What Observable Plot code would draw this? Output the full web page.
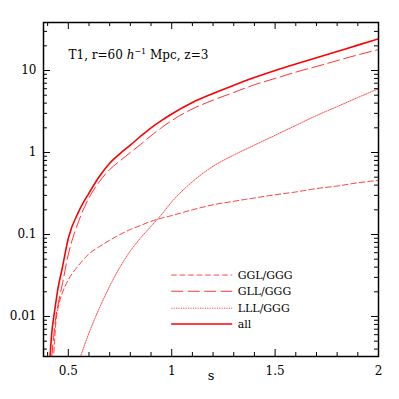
<!DOCTYPE html>
<html><head><meta charset="utf-8">
<script src="https://cdn.jsdelivr.net/npm/d3@7"></script>
<script src="https://cdn.jsdelivr.net/npm/@observablehq/plot@0.6"></script>
<style>
body{margin:0;background:#fff}
#chart svg{display:block}
</style>
</head><body><div id="chart"></div>
<script>
// Data
const s = [0.41,0.42,0.43,0.44,0.45,0.47,0.5,0.55,0.6,0.65,0.7,0.75,0.8,0.85,0.9,0.95,1.0,1.1,1.2,1.3,1.4,1.5,1.6,1.7,1.8,1.9,2.0];
const ggl = [null,null,0.0036,0.0085,0.0125,0.019,0.028,0.042,0.058,0.071,0.085,0.1,0.115,0.129,0.145,0.158,0.17,0.2,0.23,0.254,0.279,0.305,0.33,0.363,0.39,0.427,0.457];
const gll = [null,0.0032,0.006,0.010,0.0138,0.024,0.057,0.145,0.28,0.44,0.62,0.79,1.0,1.26,1.6,2.0,2.45,3.4,4.35,5.4,6.7,8.0,9.55,11.2,13.2,15.5,18.0];
const lll = [null,null,null,null,null,null,null,0.0028,0.0063,0.0126,0.0234,0.04,0.063,0.091,0.126,0.174,0.25,0.44,0.68,0.93,1.23,1.62,2.14,2.82,3.63,4.68,6.0];
const all = [0.0028,0.0063,0.010,0.015,0.022,0.038,0.09,0.19,0.32,0.51,0.74,0.97,1.23,1.58,2.0,2.45,2.95,4.07,5.25,6.6,8.2,10.0,12.0,14.3,17.0,20.4,24.3];

const seriesNames = ["GGL/GGG","GLL/GGG","LLL/GGG","all"];
const seriesValues = [ggl, gll, lll, all];
const seriesDash = ["5.5,3","12,4.5","1.2,1.2",null];
const seriesWidth = [1, 1, 1, 1.6];
const seriesOpacity = [0.75, 0.8, 0.7, 1];

const xTickLabels = [0.5, 1, 1.5, 2];
const yTickLabels = [0.01, 0.1, 1, 10];
const xMinor = [0.4,0.6,0.7,0.8,0.9,1.1,1.2,1.3,1.4,1.6,1.7,1.8,1.9];
const yMinor = [0.004,0.005,0.006,0.007,0.008,0.009,0.02,0.03,0.04,0.05,0.06,0.07,0.08,0.09,0.2,0.3,0.4,0.5,0.6,0.7,0.8,0.9,2,3,4,5,6,7,8,9,20,30];

const legendX = [1.0, 1.295];
const legendY = [0.032, 0.0203, 0.0126, 0.0081];

const W = 399, H = 399, mL = 43, mR = 21, mT = 22, mB = 43;
const iw = W - mL - mR, ih = H - mT - mB;
const MAJ = 7, MIN = 4;
const red = "#ff0000";
const font = "'DejaVu Serif', 'Liberation Serif', serif";

const marks = [];
seriesNames.forEach((name, k) => {
  const rows = s.map((x, i) => ({s: x, v: seriesValues[k][i]}));
  marks.push(Plot.line(rows, {x: "s", y: "v", stroke: red, strokeWidth: seriesWidth[k],
    strokeOpacity: seriesOpacity[k], strokeDasharray: seriesDash[k], curve: "monotone-x", clip: true}));
});
// ticks (inside, all four sides)
marks.push(
  Plot.tickX(xTickLabels, {x: d => d, insetTop: ih - MAJ, stroke: "#000"}),
  Plot.tickX(xTickLabels, {x: d => d, insetBottom: ih - MAJ, stroke: "#000"}),
  Plot.tickX(xMinor, {x: d => d, insetTop: ih - MIN, stroke: "#000"}),
  Plot.tickX(xMinor, {x: d => d, insetBottom: ih - MIN, stroke: "#000"}),
  Plot.tickY(yTickLabels, {y: d => d, insetRight: iw - MAJ, stroke: "#000"}),
  Plot.tickY(yTickLabels, {y: d => d, insetLeft: iw - MAJ, stroke: "#000"}),
  Plot.tickY(yMinor, {y: d => d, insetRight: iw - MIN, stroke: "#000"}),
  Plot.tickY(yMinor, {y: d => d, insetLeft: iw - MIN, stroke: "#000"}),
  Plot.frame({stroke: "#000", strokeWidth: 1.5}),
  Plot.axisX(xTickLabels, {tickSize: 0, tickPadding: 10, tickFormat: d => String(d), fontSize: 12, label: null}),
  Plot.axisY(yTickLabels, {tickSize: 0, tickPadding: 7, tickFormat: d => String(d), fontSize: 12, label: null}),
  Plot.text(["s"], {frameAnchor: "bottom", dy: 23, fontSize: 13, fill: "#000"}),
  Plot.text(["TITLE"], {frameAnchor: "top-left", dx: 25, dy: 28, textAnchor: "start", fontSize: 12, fill: "#000"})
);
// legend
seriesNames.forEach((name, k) => {
  marks.push(Plot.ruleY([legendY[k]], {x1: legendX[0], x2: legendX[1], stroke: red,
    strokeWidth: seriesWidth[k], strokeOpacity: seriesOpacity[k], strokeDasharray: seriesDash[k]}));
  marks.push(Plot.text([name], {x: legendX[1], y: legendY[k], dx: 5, textAnchor: "start", fontSize: 11, fill: "#000"}));
});

const chart = Plot.plot({
  width: W, height: H,
  marginLeft: mL, marginRight: mR, marginTop: mT, marginBottom: mB,
  style: {fontFamily: font, background: "#fff", color: "#000"},
  x: {domain: [0.38, 2]},
  y: {type: "log", domain: [0.00325, 38.5]},
  marks
});
// rich title with italic h and superscript
d3.select(chart).selectAll("text").filter(function(){ return this.textContent === "TITLE"; })
  .each(function(){
    const t = d3.select(this);
    t.text(null);
    t.append("tspan").text("T1, r=60 ");
    t.append("tspan").attr("font-style", "italic").text("h");
    t.append("tspan").attr("font-size", 8).attr("dy", -5).text("−1");
    t.append("tspan").attr("dy", 5).text(" Mpc, z=3");
  });
document.getElementById("chart").appendChild(chart);
</script>
</body></html>
